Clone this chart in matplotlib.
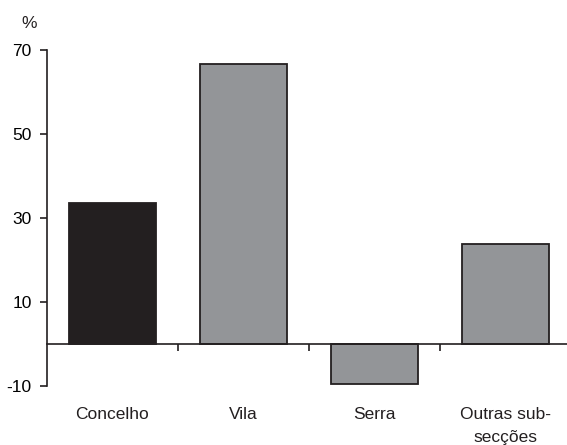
import matplotlib
matplotlib.use("Agg")
import matplotlib.pyplot as plt
import matplotlib.transforms as mtransforms

categories = ["Concelho", "Vila", "Serra", "Outras sub-\nsecções"]
values = [33.5, 66.7, -9.5, 23.8]
bar_colors = ["#231f20", "#939598", "#939598", "#939598"]
yticks = [-10, 10, 30, 50, 70]

plt.rcParams['font.family'] = ['Liberation Sans', 'DejaVu Sans']
FS = 12.5

fig = plt.figure(figsize=(5.67, 4.45), dpi=100)
W, H = 567, 445
left_px, right_px, top_px, bottom_px = 47, 571, 50, 386
ax = fig.add_axes([left_px / W, 1 - bottom_px / H, (right_px - left_px) / W, (bottom_px - top_px) / H])

x = list(range(len(categories)))
ax.bar(x, values, width=0.66, color=bar_colors, edgecolor="#231f20", linewidth=1.3, zorder=3)

ax.set_xlim(-0.5, len(categories) - 0.5)
ax.set_ylim(-10, 70)
ax.set_yticks(yticks)
ax.set_yticklabels([str(v) for v in yticks], fontsize=FS)
ax.tick_params(axis='y', direction='out', length=5, width=1.2, pad=6, color="#231f20")

for s in ["top", "right"]:
    ax.spines[s].set_visible(False)
ax.spines["left"].set_linewidth(1.2)
ax.spines["left"].set_color("#231f20")
ax.spines["bottom"].set_position(("data", 0))
ax.spines["bottom"].set_linewidth(1.2)
ax.spines["bottom"].set_color("#231f20")
ax.spines["bottom"].set_zorder(4)

ax.set_xticks([i + 0.5 for i in range(len(categories) - 1)])
ax.set_xticklabels([])
ax.tick_params(axis='x', direction='out', length=5, width=1.2, color="#231f20")

trans = mtransforms.blended_transform_factory(ax.transData, ax.transAxes)
for i, c in enumerate(categories):
    ax.text(i, -0.063, c, transform=trans, ha='center', va='top', fontsize=FS,
            linespacing=1.62, color="#231f20")

ax.text(-0.035, 1.08, "%", transform=ax.transAxes, ha='center', va='center', fontsize=FS, color="#231f20")

fig.savefig("out.png", dpi=100)
